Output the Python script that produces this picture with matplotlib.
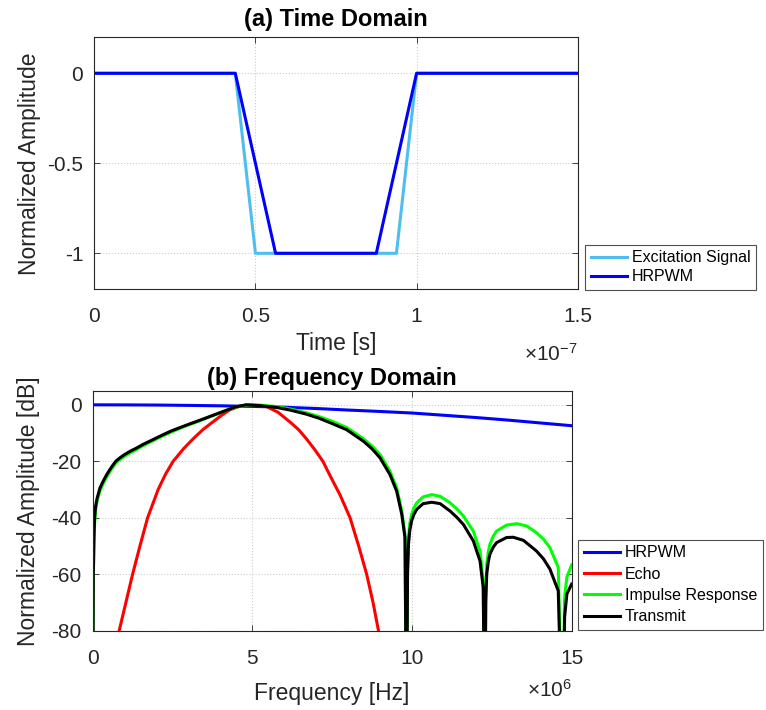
import numpy as np
import matplotlib
matplotlib.use("Agg")
import matplotlib.pyplot as plt
from matplotlib.ticker import FuncFormatter

plt.rcParams['font.family'] = ['Liberation Sans', 'DejaVu Sans']
plt.rcParams['mathtext.fontset'] = 'custom'
plt.rcParams['mathtext.rm'] = 'Liberation Sans'
plt.rcParams['mathtext.it'] = 'Liberation Sans:italic'

# ---- (a) time domain, seconds / normalized amplitude
exc_t = np.array([0.0, 0.4375, 0.5, 0.9375, 1.0, 1.5]) * 1e-7
exc_v = [0, 0, -1, -1, 0, 0]
hr_t = np.array([0.0, 0.4375, 0.5625, 0.875, 1.0, 1.5]) * 1e-7
hr_v = [0, 0, -1, -1, 0, 0]

# ---- (b) frequency domain, MHz -> Hz / dB
hrpwm_f = np.array([0, 1, 2, 3, 4, 5, 6, 7, 8, 9, 10, 11, 12, 13, 14, 15]) * 1e6
hrpwm_db = [0, -0.02, -0.08, -0.2, -0.35, -0.55, -0.85, -1.3, -1.85, -2.35,
            -2.9, -3.7, -4.5, -5.4, -6.4, -7.4]

echo_f = np.array([0.65, 0.83, 1.04, 1.25, 1.48, 1.72, 2.05, 2.28, 2.52, 2.85,
                   3.15, 3.45, 3.77, 4.05, 4.29, 4.6, 4.9, 5.2, 5.44, 5.8,
                   6.17, 6.45, 6.69, 6.95, 7.21, 7.43, 7.75, 8.06, 8.33, 8.58,
                   8.78, 8.95, 9.1]) * 1e6
echo_db = [-90, -80, -70, -60, -50, -40, -30, -24.6, -20, -15.5,
           -12, -8.8, -6, -3.6, -1.8, -0.5, 0, -0.2, -0.6, -2.6,
           -6, -8.8, -12, -15.8, -20, -25, -32, -40, -50, -60,
           -70, -80, -90]

tx_f = np.array([0, 0.02, 0.04, 0.06, 0.09, 0.14, 0.23, 0.33, 0.44, 0.58,
                 0.72, 0.86, 1.0, 1.18, 1.375, 1.58, 1.8, 2.0, 2.2, 2.45,
                 2.7, 2.98, 3.25, 3.7, 4.08, 4.45, 4.8, 5.25, 5.75, 6.2,
                 6.69, 7.1, 7.45, 7.95, 8.48, 8.75, 9.0, 9.31, 9.52, 9.68,
                 9.78, 9.83, 9.86, 9.89, 9.93, 9.99, 10.06, 10.15, 10.35, 10.62,
                 10.88, 11.19, 11.4, 11.61, 11.92, 12.13, 12.23, 12.28, 12.31, 12.34,
                 12.39, 12.44, 12.54, 12.65, 12.96, 13.17, 13.49, 13.9, 14.12, 14.32,
                 14.58, 14.71, 14.78, 14.85, 15.0]) * 1e6
tx_db = [-120, -60, -47, -40, -36, -33, -29.4, -27, -24.7, -22.2,
         -20, -18.7, -17.6, -16.4, -15.3, -14.0, -12.8, -11.7, -10.6, -9.3,
         -8.2, -7.0, -5.9, -4.0, -2.4, -0.8, 0, -0.3, -0.9, -1.9,
         -3.3, -4.8, -6.4, -8.8, -12.9, -15.6, -18.8, -24.7, -30.6, -38.8,
         -47, -120, -60, -49.4, -44.5, -41, -38.8, -37, -35, -34.5,
         -35, -37.6, -39.8, -42.4, -48.2, -55.3, -64.7, -120, -70, -60,
         -55.5, -52.9, -50.5, -48.8, -47, -46.9, -48, -51.8, -54.6, -58.2,
         -65.9, -120, -75, -67, -63.5]

ir_f = np.array([0, 0.02, 0.04, 0.06, 0.09, 0.14, 0.23, 0.33, 0.44, 0.58,
                 0.72, 0.86, 1.0, 1.18, 1.375, 1.58, 1.8, 2.0, 2.2, 2.45,
                 2.7, 2.98, 3.25, 3.7, 4.08, 4.45, 4.8, 5.25, 5.75, 6.2,
                 6.69, 7.1, 7.45, 7.95, 8.48, 8.75, 9.0, 9.31, 9.52, 9.68,
                 9.78, 9.83, 9.86, 9.89, 9.93, 9.99, 10.06, 10.15, 10.35, 10.62,
                 10.88, 11.19, 11.4, 11.61, 11.92, 12.13, 12.23, 12.28, 12.31, 12.34,
                 12.39, 12.44, 12.54, 12.65, 12.96, 13.28, 13.59, 13.9, 14.12, 14.32,
                 14.58, 14.71, 14.78, 14.85, 15.0]) * 1e6
ir_db = [-120, -62, -49, -42, -37.5, -34, -30.4, -27.9, -25.5, -22.9,
         -20.7, -19.3, -18.2, -17.0, -15.8, -14.5, -13.2, -12.1, -11.0, -9.7,
         -8.5, -7.2, -6.1, -4.1, -2.4, -0.9, -0.1, -0.1, -0.6, -1.5,
         -2.8, -4.2, -5.6, -8.0, -12.0, -14.6, -17.6, -23.5, -29.4, -37.6,
         -45.9, -120, -58, -47, -42, -38.8, -36.5, -34.7, -32.6, -31.8,
         -32.4, -34.7, -36.8, -39.4, -44.7, -51.8, -62.4, -120, -66, -56.5,
         -52, -49.4, -46.6, -44.7, -42.6, -42.1, -42.9, -45.3, -47.6, -50.6,
         -57.6, -120, -68, -61, -56.7]

edge = (0.15, 0.15, 0.15)


def style_axes(ax):
    ax.tick_params(direction='in', length=4, width=0.6, top=True, right=True,
                   labelsize=15, colors=edge)
    ax.tick_params(axis='x', pad=13)
    ax.tick_params(axis='y', pad=8)
    for s in ax.spines.values():
        s.set_color(edge)
        s.set_linewidth(0.8)
    ax.grid(True, linestyle=':', color=(0.8, 0.8, 0.8), linewidth=0.8)
    ax.set_axisbelow(True)


def style_legend(leg):
    leg.get_frame().set_edgecolor(edge)
    leg.get_frame().set_linewidth(0.8)


fig = plt.figure(figsize=(7.66, 7.10), dpi=100)

ax1 = fig.add_axes([0.1231, 0.5925, 0.6311, 0.355])
ax1.plot(exc_t, exc_v, color=(0.30, 0.745, 0.933), lw=2.2, label='Excitation Signal')
ax1.plot(hr_t, hr_v, color=(0, 0, 1), lw=2.2, label='HRPWM')
ax1.set_xlim(0, 1.5e-7)
ax1.set_ylim(-1.2, 0.2)
ax1.set_xticks(np.array([0, 0.5, 1, 1.5]) * 1e-7)
ax1.set_yticks([-1, -0.5, 0])
ax1.xaxis.set_major_formatter(FuncFormatter(lambda v, p: f"{v / 1e-7:g}"))
ax1.yaxis.set_major_formatter(FuncFormatter(lambda v, p: f"{v:g}"))
style_axes(ax1)
ax1.set_title('(a) Time Domain', fontsize=17, fontweight='bold', pad=8)
ax1.set_xlabel('Time [s]', fontsize=16.5, color=edge, labelpad=4)
ax1.set_ylabel('Normalized Amplitude', fontsize=16.5, color=edge)
ax1.yaxis.set_label_coords(-0.11, 0.5)
fig.text(578 / 766, 1 - 354 / 710, r'$\times10^{-7}$', ha='right', va='center',
         fontsize=15, color=edge)
leg1 = ax1.legend(loc='lower left', bbox_to_anchor=(585 / 766, 1 - 290 / 710),
                  bbox_transform=fig.transFigure, fontsize=11.5, frameon=True,
                  fancybox=False, borderaxespad=0, borderpad=0.35, handlelength=2.3,
                  handletextpad=0.3, labelspacing=0.25)
style_legend(leg1)

ax2 = fig.add_axes([0.121, 0.1117, 0.6253, 0.338])
ax2.plot(hrpwm_f, hrpwm_db, color=(0, 0, 1), lw=2.2, label='HRPWM')
ax2.plot(echo_f, echo_db, color=(1, 0, 0), lw=2.2, label='Echo')
ax2.plot(ir_f, ir_db, color=(0, 1, 0), lw=2.2, label='Impulse Response')
ax2.plot(tx_f, tx_db, color=(0, 0, 0), lw=2.2, label='Transmit')
ax2.set_xlim(0, 15e6)
ax2.set_ylim(-80, 5)
ax2.set_xticks(np.array([0, 5, 10, 15]) * 1e6)
ax2.set_yticks([-80, -60, -40, -20, 0])
ax2.xaxis.set_major_formatter(FuncFormatter(lambda v, p: f"{v / 1e6:g}"))
ax2.yaxis.set_major_formatter(FuncFormatter(lambda v, p: f"{v:g}"))
style_axes(ax2)
ax2.set_title('(b) Frequency Domain', fontsize=17, fontweight='bold', pad=4)
ax2.set_xlabel('Frequency [Hz]', fontsize=16.5, color=edge, labelpad=10)
ax2.set_ylabel('Normalized Amplitude [dB]', fontsize=16.5, color=edge)
ax2.yaxis.set_label_coords(-0.11, 0.5)
fig.text(572 / 766, 1 - 690 / 710, r'$\times10^{6}$', ha='right', va='center',
         fontsize=15, color=edge)
leg2 = ax2.legend(loc='lower left', bbox_to_anchor=(578 / 766, 1 - 630 / 710),
                  bbox_transform=fig.transFigure, fontsize=11.5, frameon=True,
                  fancybox=False, borderaxespad=0, borderpad=0.35, handlelength=2.3,
                  handletextpad=0.3, labelspacing=0.4)
style_legend(leg2)

fig.savefig('out.png', dpi=100, facecolor='white')
